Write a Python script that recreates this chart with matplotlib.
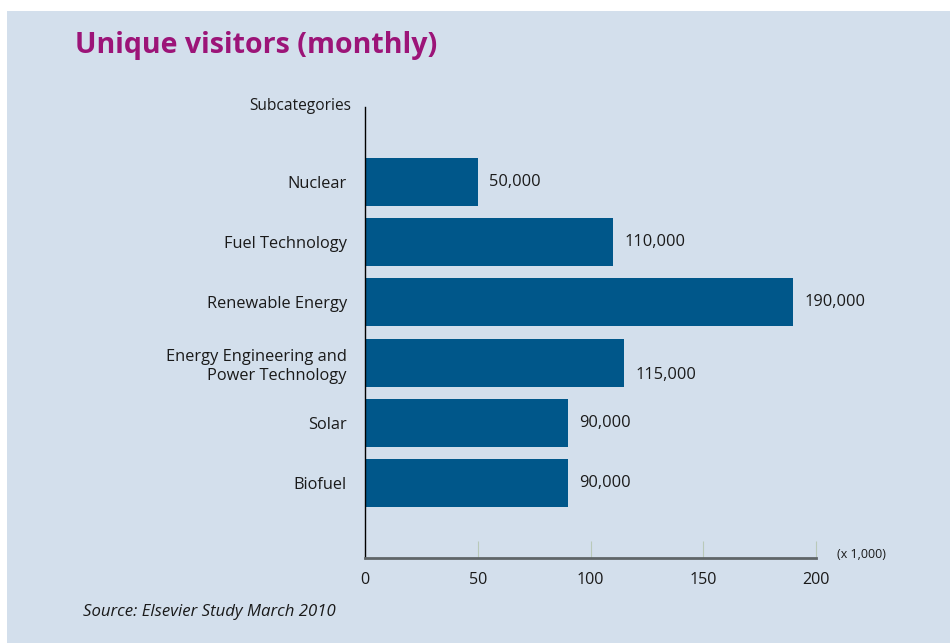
import matplotlib
matplotlib.use("Agg")
import matplotlib.pyplot as plt
from matplotlib.patches import Rectangle

categories = ["Nuclear", "Fuel Technology", "Renewable Energy",
              "Energy Engineering and\nPower Technology", "Solar", "Biofuel"]
values = [50, 110, 190, 115, 90, 90]  # thousands
value_labels = ["50,000", "110,000", "190,000", "115,000", "90,000", "90,000"]
xticks = [0, 50, 100, 150, 200]

FONT = ["Open Sans", "DejaVu Sans"]
plt.rcParams['font.family'] = FONT

W, H = 950, 643
fig = plt.figure(figsize=(W / 100, H / 100), dpi=100, facecolor="white")
bg = "#d3dfec"
fig.patches.append(Rectangle((7 / W, 0), 1 - 7 / W, 1 - 11 / H, transform=fig.transFigure,
                             facecolor=bg, edgecolor="none", zorder=-10))

ax = fig.add_axes([365 / W, 1 - 558 / H, (816 - 365) / W, (558 - 107) / H])
ax.set_facecolor("none")

n = len(categories)
ypos = [n - 1 - i for i in range(n)]
ax.barh(ypos, values, height=0.8, color="#00578a", zorder=2)

ax.set_xlim(0, 200)
ax.set_ylim(-1.25, n - 1 + 1.25)

for i, (y, v, lab) in enumerate(zip(ypos, values, value_labels)):
    dy = -0.2 if "\n" in categories[i] else 0
    ax.text(v + 5, y + dy, lab, va="center", ha="left", fontsize=11.8, color="#1a1a1a")

ax.set_yticks(ypos)
ax.set_yticklabels(categories, fontsize=11.8, color="#1a1a1a", ha="right",
                   multialignment="right", linespacing=1.3)
ax.tick_params(axis="y", length=0, pad=13)

ax.set_xticks(xticks)
ax.set_xticklabels([str(t) for t in xticks], fontsize=11.6, color="#1a1a1a")
ax.tick_params(axis="x", direction="in", length=12, width=0.8, color="#b9c9b9", pad=10)

for s in ["top", "right"]:
    ax.spines[s].set_visible(False)
ax.spines["left"].set_color("black")
ax.spines["left"].set_linewidth(1.0)
ax.spines["bottom"].set_color("#5f6568")
ax.spines["bottom"].set_linewidth(2.0)

fig.text(351 / W, 1 - 106 / H, "Subcategories", ha="right", va="center", fontsize=11.2, color="#1a1a1a")
fig.text(886 / W, 1 - 555 / H, "(x 1,000)", ha="right", va="center", fontsize=9, color="#1a1a1a")
fig.text(75 / W, 1 - 45 / H, "Unique visitors (monthly)", ha="left", va="center",
         fontsize=20.5, fontweight="bold", color="#9c1478")
fig.text(83 / W, 1 - 612 / H, "Source: Elsevier Study March 2010", ha="left", va="center",
         fontsize=12.1, style="italic", color="#1a1a1a")

fig.savefig("out.png", dpi=100, facecolor="white")
